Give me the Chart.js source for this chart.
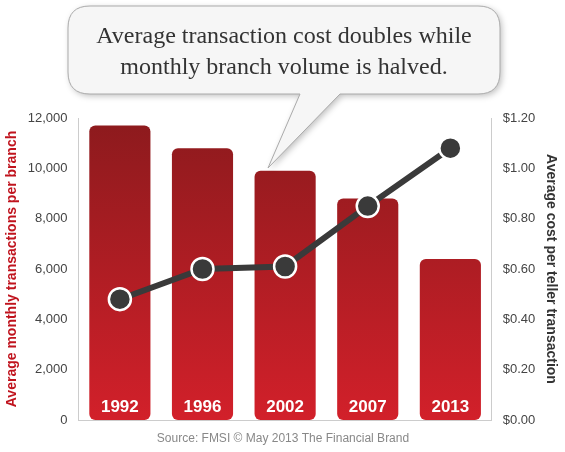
<!DOCTYPE html>
<html>
<head>
<meta charset="utf-8">
<script src="https://cdn.jsdelivr.net/npm/chart.js@4/dist/chart.umd.min.js"></script>
<style>
  body { margin: 0; background: #fff; }
  #wrap { width: 565px; height: 452px; }
</style>
</head>
<body>
<div id="wrap"><canvas id="c" width="565" height="452"></canvas></div>
<script>
const years = ["1992", "1996", "2002", "2007", "2013"];
const volume = [11700, 10800, 9900, 8800, 6400];
const cost = [0.48, 0.60, 0.61, 0.85, 1.08];

// speech bubble, year labels and source line
const extras = {
    id: 'extras',
    afterDraw(chart) {
        const ctx = chart.ctx;
        const meta = chart.getDatasetMeta(1);
        ctx.save();
        ctx.fillStyle = '#fff';
        ctx.font = 'bold 17px "Liberation Sans", Arial, sans-serif';
        ctx.textAlign = 'center';
        ctx.textBaseline = 'middle';
        meta.data.forEach(function (bar, i) {
            ctx.fillText(years[i], bar.x, 407);
        });

        ctx.fillStyle = '#888';
        ctx.font = '12px "Liberation Sans", Arial, sans-serif';
        ctx.fillText('Source: FMSI \u00A9 May 2013 The Financial Brand', 283, 439);

        // bubble
        const x = 68, y = 6, w = 432, h = 88, r = 22;
        ctx.beginPath();
        ctx.moveTo(x + r, y);
        ctx.lineTo(x + w - r, y);
        ctx.quadraticCurveTo(x + w, y, x + w, y + r);
        ctx.lineTo(x + w, y + h - r);
        ctx.quadraticCurveTo(x + w, y + h, x + w - r, y + h);
        ctx.lineTo(340, y + h);
        ctx.lineTo(268, 168);
        ctx.lineTo(300, y + h);
        ctx.lineTo(x + r, y + h);
        ctx.quadraticCurveTo(x, y + h, x, y + h - r);
        ctx.lineTo(x, y + r);
        ctx.quadraticCurveTo(x, y, x + r, y);
        ctx.closePath();
        ctx.shadowColor = 'rgba(0,0,0,0.25)';
        ctx.shadowBlur = 6;
        ctx.shadowOffsetX = 2;
        ctx.shadowOffsetY = 2;
        ctx.fillStyle = '#f6f6f6';
        ctx.fill();
        ctx.shadowColor = 'transparent';
        ctx.strokeStyle = '#aaa';
        ctx.lineWidth = 1;
        ctx.stroke();
        ctx.fillStyle = '#333';
        ctx.font = '24px "Liberation Serif", "Times New Roman", serif';
        ctx.fillText('Average transaction cost doubles while', 284, 37);
        ctx.fillText('monthly branch volume is halved.', 284, 68);
        ctx.restore();
    }
};

const ctx = document.getElementById('c').getContext('2d');
new Chart(ctx, {
    data: {
        labels: years,
        datasets: [{
            type: 'line',
            data: cost,
            yAxisID: 'y1',
            borderColor: '#3a3a3a',
            borderWidth: 6,
            pointRadius: 11,
            pointBorderWidth: 2.5,
            pointBorderColor: '#fff',
            pointBackgroundColor: '#3a3a3a',
            tension: 0,
            order: 0
        }, {
            type: 'bar',
            data: volume,
            yAxisID: 'y',
            backgroundColor: function (c) {
                const area = c.chart.chartArea;
                if (!area) return '#b01c22';
                const g = c.chart.ctx.createLinearGradient(0, area.top, 0, area.bottom);
                g.addColorStop(0, '#8c1a1d');
                g.addColorStop(1, '#d2202a');
                return g;
            },
            borderRadius: 6,
            borderSkipped: false,
            categoryPercentage: 0.74,
            barPercentage: 1,
            order: 1
        }]
    },
    options: {
        responsive: false,
        animation: false,
        layout: { padding: { top: 118, bottom: 24, left: 0, right: 2 } },
        plugins: { legend: { display: false }, tooltip: { enabled: false } },
        scales: {
            x: {
                ticks: { display: false },
                grid: { display: false },
                border: { color: '#ccc' }
            },
            y: {
                position: 'left',
                min: 0, max: 12000,
                ticks: {
                    stepSize: 2000, color: '#444',
                    font: { family: 'Liberation Sans', size: 13 },
                    callback: function (v) { return v.toLocaleString('en-US'); }
                },
                grid: { display: false },
                border: { color: '#ccc' },
                title: {
                    display: true, text: 'Average monthly transactions per branch',
                    color: '#c0141e', font: { family: 'Liberation Sans', size: 14, weight: 'bold' }
                }
            },
            y1: {
                position: 'right',
                min: 0, max: 1.2,
                ticks: {
                    stepSize: 0.2, color: '#444',
                    font: { family: 'Liberation Sans', size: 13 },
                    callback: function (v) { return '$' + v.toFixed(2); }
                },
                grid: { display: false },
                border: { color: '#ccc' },
                title: {
                    display: true, text: 'Average cost per teller transaction',
                    color: '#333', font: { family: 'Liberation Sans', size: 14, weight: 'bold' }
                }
            }
        }
    },
    plugins: [extras]
});
</script>
</body>
</html>
